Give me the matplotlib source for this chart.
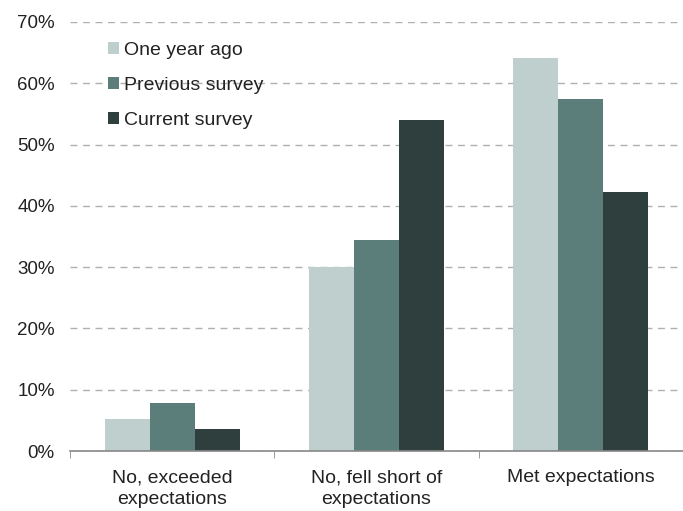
import numpy as np
import matplotlib.pyplot as plt
from matplotlib.ticker import FixedLocator, PercentFormatter

categories = ["No, exceeded\nexpectations", "No, fell short of\nexpectations", "Met expectations"]
series_names = ["One year ago", "Previous survey", "Current survey"]
one_year_ago = [0.053, 0.300, 0.641]
previous_survey = [0.079, 0.344, 0.575]
current_survey = [0.036, 0.540, 0.422]
colors = ["#bfcfcd", "#5b7e7a", "#2f3f3e"]

plt.rcParams['font.family'] = ['Liberation Sans', 'DejaVu Sans']

fig = plt.figure(figsize=(6.83, 5.11), dpi=100)
ax = fig.add_axes([0.1025, 0.1174, 0.8975, 0.8396])

x = np.arange(len(categories))
w = 0.22
for i, (vals, name) in enumerate(zip([one_year_ago, previous_survey, current_survey], series_names)):
    ax.bar(x + (i - 1) * w, vals, w, color=colors[i], label=name, zorder=3)

ax.set_xlim(-0.5, 2.5)
ax.set_ylim(0, 0.7)
ax.set_yticks(np.arange(0, 0.71, 0.1))
ax.yaxis.set_major_formatter(PercentFormatter(1.0, decimals=0))
ax.grid(axis='y', color='#b0b0b0', linestyle=(0, (5, 4)), linewidth=1, zorder=0)

ax.set_xticks(x)
ax.set_xticklabels(categories, fontsize=14, color='#222222', linespacing=1.35)
ax.xaxis.set_minor_locator(FixedLocator([-0.5, 0.5, 1.5, 2.5]))
ax.tick_params(axis='x', which='major', length=0, pad=13)
ax.tick_params(axis='x', which='minor', length=5, color='#888888', direction='out')
ax.tick_params(axis='y', length=0, labelsize=13.5, labelcolor='#222222', pad=11)

for s in ['top', 'right', 'left']:
    ax.spines[s].set_visible(False)
ax.spines['bottom'].set_color('#888888')
ax.spines['bottom'].set_linewidth(1.2)
ax.spines['bottom'].set_zorder(4)

leg = ax.legend(loc='upper left', bbox_to_anchor=(0.062, 0.953), frameon=False,
                fontsize=14, handlelength=0.55, handleheight=0.55, handletextpad=0.25,
                labelspacing=0.92, borderaxespad=0, borderpad=0)
for t in leg.get_texts():
    t.set_color('#222222')

fig.savefig("out.png", dpi=100)
